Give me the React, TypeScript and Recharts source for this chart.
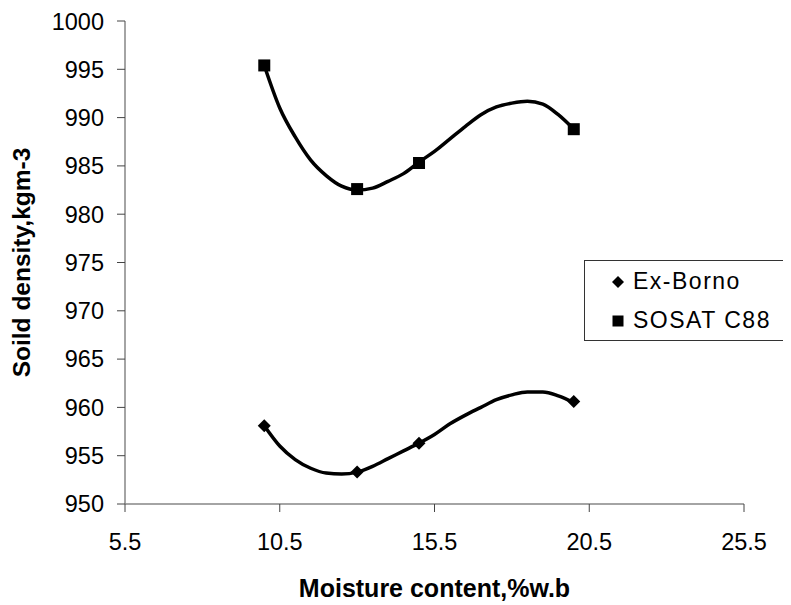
import {
  ComposedChart,
  Line,
  Scatter,
  XAxis,
  YAxis,
  Legend,
  Label,
} from "recharts";

// measured points
const MOISTURE = [10.0, 13.0, 15.0, 20.0];
const EX_BORNO = [958.1, 953.3, 956.3, 960.6];
const SOSAT_C88 = [995.4, 982.6, 985.3, 988.8];

// polynomial trend lines, every 0.5 %w.b
const TREND_X = [
  10, 10.5, 11, 11.5, 12, 12.5, 13, 13.5, 14, 14.5, 15, 15.5, 16, 16.5, 17,
  17.5, 18, 18.5, 19, 19.5, 20,
];
const EX_BORNO_TREND = [
  958.1, 956.0, 954.6, 953.7, 953.2, 953.1, 953.3, 953.9, 954.7, 955.5,
  956.3, 957.2, 958.3, 959.2, 960.0, 960.8, 961.3, 961.6, 961.6, 961.2,
  960.5,
];
const SOSAT_TREND = [
  995.4, 991.0, 988.0, 985.6, 984.0, 982.9, 982.5, 982.7, 983.4, 984.2,
  985.4, 986.5, 987.8, 989.1, 990.3, 991.1, 991.5, 991.7, 991.4, 990.3,
  988.8,
];

const X_TICKS = [5.5, 10.5, 15.5, 20.5, 25.5];
const Y_TICKS = [950, 955, 960, 965, 970, 975, 980, 985, 990, 995, 1000];

const SERIES_NAMES = ["Ex-Borno", "SOSAT C88"];

const FONT = "'Liberation Sans', Arial, sans-serif";

const toPoints = (xs: number[], ys: number[]) =>
  xs.map((x, i) => ({ x, y: ys[i] }));

const exPoints = toPoints(MOISTURE, EX_BORNO);
const sosatPoints = toPoints(MOISTURE, SOSAT_C88);
const exTrend = toPoints(TREND_X, EX_BORNO_TREND);
const sosatTrend = toPoints(TREND_X, SOSAT_TREND);

function Diamond(props: any) {
  const { cx, cy } = props;
  const r = 6.5;
  return (
    <path
      d={`M${cx},${cy - r}L${cx + r},${cy}L${cx},${cy + r}L${cx - r},${cy}Z`}
      fill="#000"
    />
  );
}

function Square(props: any) {
  const { cx, cy } = props;
  const s = 12;
  return <rect x={cx - s / 2} y={cy - s / 2} width={s} height={s} fill="#000" />;
}

function LegendBox() {
  return (
    <svg width={207} height={81} style={{ display: "block" }}>
      <rect x={0.5} y={0.5} width={206} height={80} fill="#fff" stroke="#333" />
      <path d="M34,16L40,22L34,28L28,22Z" fill="#000" />
      <text x={49} y={29} fontSize={23} letterSpacing={1.5} fontFamily={FONT}>
        {SERIES_NAMES[0]}
      </text>
      <rect x={28.5} y={55.5} width={11} height={11} fill="#000" />
      <text x={49} y={68} fontSize={23} letterSpacing={1.5} fontFamily={FONT}>
        {SERIES_NAMES[1]}
      </text>
    </svg>
  );
}

export default function App() {
  return (
    <div style={{ fontFamily: FONT }}>
      <ComposedChart
        width={783}
        height={597}
        margin={{ top: 13, right: 47, left: 0, bottom: 41 }}
      >
        <XAxis
          type="number"
          dataKey="x"
          domain={[5.5, 25.5]}
          ticks={X_TICKS}
          allowDataOverflow
          height={60}
          tickSize={8}
          tickMargin={21}
          tick={{ fontSize: 23.5, fill: "#000" }}
          axisLine={{ stroke: "#868686", strokeWidth: 1.5 }}
          tickLine={{ stroke: "#444" }}
        >
          <Label
            content={({ viewBox }: any) => (
              <text
                x={viewBox.x + viewBox.width / 2}
                y={viewBox.y + 93}
                textAnchor="middle"
                fontSize={25}
                fontWeight="bold"
                fontFamily={FONT}
              >
                Moisture content,%w.b
              </text>
            )}
          />
        </XAxis>
        <YAxis
          type="number"
          dataKey="y"
          domain={[950, 1000]}
          ticks={Y_TICKS}
          allowDataOverflow
          width={117}
          tickSize={8}
          tickMargin={13}
          tick={{ fontSize: 23.5, fill: "#000" }}
          axisLine={{ stroke: "#868686", strokeWidth: 1.5 }}
          tickLine={{ stroke: "#444" }}
        >
          <Label
            content={({ viewBox }: any) => (
              <text
                transform={`translate(${viewBox.x + 22}, ${
                  viewBox.y + viewBox.height / 2
                }) rotate(-90)`}
                textAnchor="middle"
                fontSize={24.5}
                fontWeight="bold"
                fontFamily={FONT}
              >
                Soild density,kgm-3
              </text>
            )}
          />
        </YAxis>
        <Legend
          layout="horizontal"
          verticalAlign="middle"
          align="center"
          content={() => <LegendBox />}
          wrapperStyle={{ position: "absolute", left: 576, top: 252, width: 207, height: 81 }}
        />
        <Line
          data={exTrend}
          dataKey="y"
          type="monotone"
          stroke="#000"
          strokeWidth={3.5}
          dot={false}
          activeDot={false}
          legendType="none"
          isAnimationActive={false}
        />
        <Line
          data={sosatTrend}
          dataKey="y"
          type="monotone"
          stroke="#000"
          strokeWidth={3.5}
          dot={false}
          activeDot={false}
          legendType="none"
          isAnimationActive={false}
        />
        <Scatter
          name={SERIES_NAMES[0]}
          data={exPoints}
          dataKey="y"
          shape={<Diamond />}
          isAnimationActive={false}
        />
        <Scatter
          name={SERIES_NAMES[1]}
          data={sosatPoints}
          dataKey="y"
          shape={<Square />}
          isAnimationActive={false}
        />
      </ComposedChart>
    </div>
  );
}
